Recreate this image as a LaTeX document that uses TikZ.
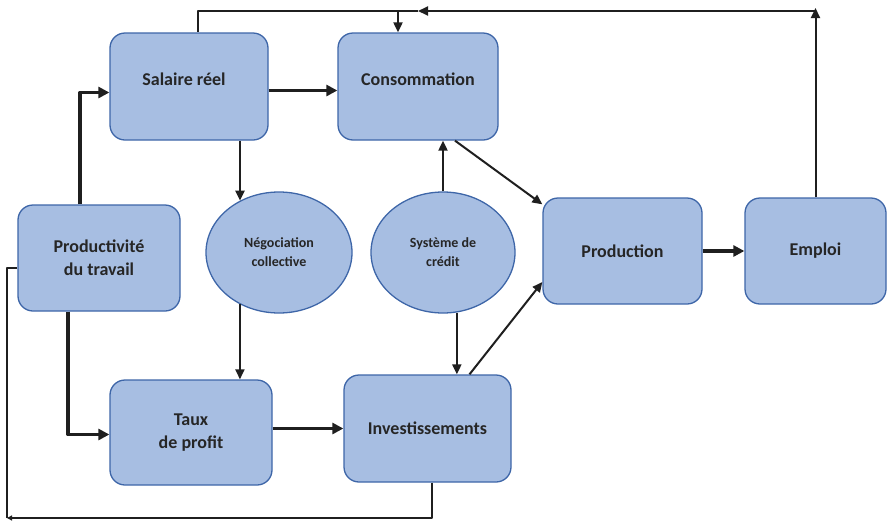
\documentclass[tikz,border=0pt]{standalone}
\usepackage{fontspec}
\setmainfont{Carlito}
\usetikzlibrary{arrows.meta,shapes.geometric}
\begin{document}
\begin{tikzpicture}[x=1pt,y=-1pt, line join=round]
	\colorlet{bloc fond}{rgb,255:red,167;green,190;blue,226}
	\colorlet{bloc bord}{rgb,255:red,62;green,102;blue,168}
	\colorlet{trait}{black!88}
	\tikzset{bloc/.style={rectangle, rounded corners=15pt, fill=bloc fond, draw=bloc bord, line width=1.3pt,
		align=center, text=black!85, font=\fontsize{18}{23}\selectfont\bfseries},
	ovale/.style={ellipse, fill=bloc fond, draw=bloc bord, line width=1.3pt, inner sep=0pt,
		align=center, text=black!85, font=\fontsize{14}{19}\selectfont\bfseries},
	fin/.style={draw=trait, line width=2pt, -{Triangle[length=10pt,width=9pt]}},
	epais/.style={draw=trait, line width=3.2pt, -{Triangle[length=11pt,width=11pt]}},
	ligne/.style={draw=trait, line width=2pt}}
	\useasboundingbox (0,0) rectangle (887,520);
	% blocs
	\node[bloc, minimum width=158pt, minimum height=107pt, text depth=14pt] (sal) at (189,86.5) {Salaire réel\hspace*{10pt}};
	\node[bloc, minimum width=160pt, minimum height=107pt, text depth=14pt] (cons) at (418,86.5) {Consommation};
	\node[bloc, minimum width=162pt, minimum height=106pt] (prod) at (99,258) {Productivité\\du travail};
	\node[ovale, minimum width=146pt, minimum height=121pt] (nego) at (279,252.5) {Négociation\\collective};
	\node[ovale, minimum width=144pt, minimum height=121pt] (cred) at (443,252.5) {Système de\\crédit};
	\node[bloc, minimum width=159pt, minimum height=106pt] (prodn) at (622.5,251) {Production};
	\node[bloc, minimum width=141pt, minimum height=106pt] (emploi) at (815.5,251) {Emploi};
	\node[bloc, minimum width=162pt, minimum height=105pt] (taux) at (191,432.5) {Taux\\de profit};
	\node[bloc, minimum width=167pt, minimum height=107pt] (inv) at (427.5,428.5) {Investissements};
	\coordinate (coinD) at (815.5,8);
	\coordinate (fleche) at (418,11);
	\coordinate (coinG) at (198,11);
	\coordinate (basG) at (7,518);
	% liaisons
	\draw[epais] ([xshift=-19pt]prod.north) |- ([yshift=-6pt]sal.west);
	\draw[epais] ([xshift=-31pt]prod.south) |- ([yshift=-2pt]taux.west);
	\draw[epais] ([yshift=-4pt]sal.east) -- ([yshift=-4pt]cons.west);
	\draw[fin] ([xshift=51pt]sal.south) -- ([xshift=51pt]sal.south |- nego.127);
	\draw[fin] (nego.233) -- (nego.233 |- taux.north);
	\draw[epais] (taux.east |- inv.west) -- (inv.west);
	\draw[fin] (cred.north) -- (cred.north |- cons.south);
	\draw[fin] (cred.283) -- (cred.283 |- inv.north);
	\draw[fin] ([xshift=37pt]cons.south) -- ([yshift=-7pt]prodn.north west);
	\draw[fin] ([xshift=42pt]inv.north) -- ([yshift=-31pt]prodn.west);
	\draw[epais] (prodn.east) -- (emploi.west);
	\draw[fin] (emploi.north) -- (coinD);
	\draw[fin] ([yshift=-3pt]coinD) -- (fleche);
	\draw[ligne] (fleche) -- (coinG) -- ([xshift=9pt]sal.north);
	\draw[fin] ([xshift=-20pt]cons.north |- coinG) -- ([xshift=-20pt]cons.north);
	\draw[ligne, -{Triangle[length=5pt,width=5pt]}] ([xshift=4.5pt]inv.south) |- (basG);
	\draw[ligne] (basG) |- ([yshift=-10pt]prod.west);
\end{tikzpicture}
\end{document}
